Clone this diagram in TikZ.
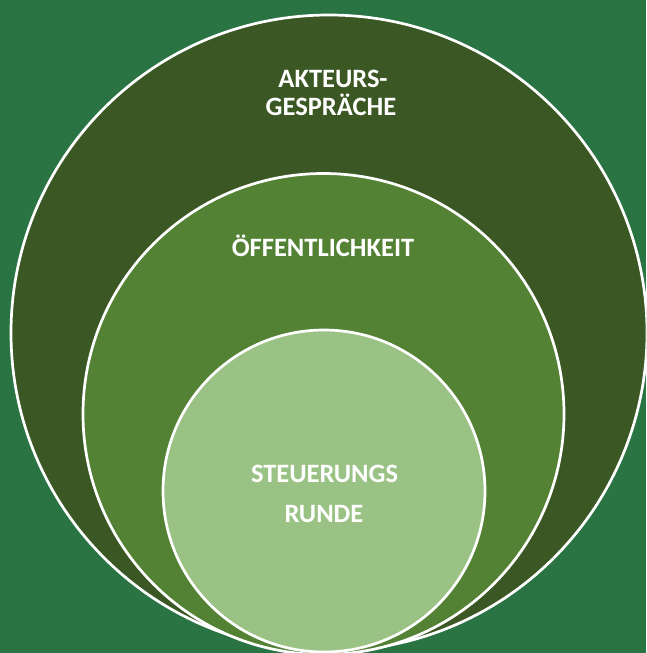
\documentclass[tikz,border=0pt]{standalone}
\usepackage{fontspec}
\setmainfont{Carlito}
\definecolor{bgg}{RGB}{42,115,67}
\definecolor{outerg}{RGB}{59,88,36}
\definecolor{midg}{RGB}{84,130,53}
\definecolor{innerg}{RGB}{155,194,133}
\tikzset{
  ring/.style={circle, draw=white, line width=2.7pt, inner sep=0pt, outer sep=0pt},
  lbl/.style={text=white, anchor=base, inner sep=0pt, font=\fontsize{26.5}{30}\selectfont\bfseries}
}
\begin{document}
\begin{tikzpicture}[x=1pt,y=-1pt]
\useasboundingbox (0,0) rectangle (646,653);
\fill[bgg] (0,0) rectangle (646,653);
\begin{scope}
\clip (0,0) rectangle (646,653);
\node[ring, fill=outerg, minimum size=636pt] (outer) at (329,333) {};
\node[ring, fill=midg, minimum size=481pt] (middle) at (323.5,414) {};
\node[ring, fill=innerg, minimum size=322pt] (inner) at (324,491) {};
\end{scope}
\node[lbl] (t1) at (333,87) {AKTEURS-};
\node[lbl] (t2) at (331,115) {GESPRÄCHE};
\node[lbl] (t3) at (323,256) {ÖFFENTLICHKEIT};
\node[lbl] (t4) at (324.5,482) {STEUERUNGS};
\node[lbl] (t5) at (324,522) {RUNDE};
\end{tikzpicture}
\end{document}
